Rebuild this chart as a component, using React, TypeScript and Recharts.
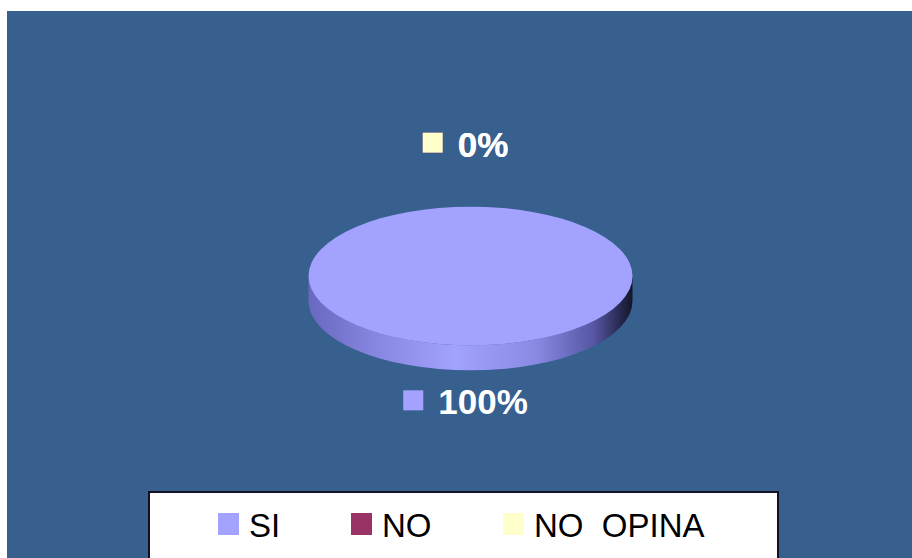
import React from "react";
import { PieChart, Pie, Cell, Legend } from "recharts";

const CATEGORIES = ["SI", "NO", "NO  OPINA"];
const VALUES = [100, 0, 0];
const COLORS = ["#A3A3FF", "#993366", "#FFFFCC"];

const data = CATEGORIES.map((name, i) => ({ name, value: VALUES[i] }));

const RADIAN = Math.PI / 180;
const TILT = 0.428;
const DEPTH = 25;
const LEGEND_X = [70, 203, 355];

const textWidth = (s: string) =>
  s.split("").reduce((w, c) => w + (c === "%" ? 0.889 : 0.556), 0) * 35;

const renderLabel = (props: any) => {
  const { cx, cy, midAngle, outerRadius, startAngle, endAngle, percent, index } = props;
  const rx = outerRadius;
  const ry = outerRadius * TILT;
  const sweep = Math.abs(endAngle - startAngle);
  let disk: React.ReactNode = null;

  if (sweep >= 359.9) {
    disk = (
      <g>
        <path
          d={`M${cx - rx},${cy} A${rx},${ry} 0 0 0 ${cx + rx},${cy} L${cx + rx},${cy + DEPTH} A${rx},${ry} 0 0 1 ${cx - rx},${cy + DEPTH} Z`}
          fill="url(#sideGrad)"
        />
        <ellipse cx={cx} cy={cy} rx={rx} ry={ry} fill={COLORS[index]} />
      </g>
    );
  } else if (sweep > 0.01) {
    const p = (a: number) => [cx + rx * Math.cos(a * RADIAN), cy - ry * Math.sin(a * RADIAN)];
    const [x1, y1] = p(startAngle);
    const [x2, y2] = p(endAngle);
    disk = (
      <path
        d={`M${cx},${cy} L${x1},${y1} A${rx},${ry} 0 ${sweep > 180 ? 1 : 0} 0 ${x2},${y2} Z`}
        fill={COLORS[index]}
      />
    );
  }

  const below = Math.sin(-midAngle * RADIAN) > 0;
  const baseline = below ? cy + ry + DEPTH + 44 : cy - ry - 50;
  const text = `${Math.round((percent || 0) * 100)}%`;
  const groupW = 35 + textWidth(text);
  const left = cx - 5 - groupW / 2;

  return (
    <g key={`lbl-${index}`}>
      {disk}
      <rect x={left} y={baseline - 24} width={20} height={20} fill={COLORS[index]} />
      <text
        x={left + 35}
        y={baseline}
        fill="#ffffff"
        fontSize={35}
        fontWeight={700}
        fontFamily="'Liberation Sans', Arial, sans-serif"
      >
        {text}
      </text>
    </g>
  );
};

const renderLegend = (props: any) => {
  const payload: any[] = props.payload && props.payload.length ? props.payload : data.map((d) => ({ value: d.name }));
  const items = CATEGORIES.map((name) => payload.find((p) => p.value === name) || { value: name });
  return (
    <div
      style={{
        width: 631,
        height: 72,
        background: "#ffffff",
        border: "2px solid #111122",
        boxSizing: "border-box",
        position: "relative",
      }}
    >
      <svg width={631} height={72} style={{ position: "absolute", left: -2, top: -2 }}>
        {items.map((entry: any, i: number) => (
          <g key={`leg-${i}`}>
            <rect x={LEGEND_X[i]} y={22} width={21} height={22} fill={COLORS[i]} />
            <text
              x={LEGEND_X[i] + 31}
              y={46}
              fontSize={33}
              fill="#000000"
              fontFamily="'Liberation Sans', Arial, sans-serif"
              style={{ whiteSpace: "pre" }}
            >
              {entry.value}
            </text>
          </g>
        ))}
      </svg>
    </div>
  );
};

export default function App() {
  return (
    <div
      style={{
        position: "absolute",
        left: 0,
        top: 0,
        width: 912,
        height: 558,
        background: "#ffffff",
        overflow: "hidden",
      }}
    >
      <div style={{ position: "absolute", left: 7, top: 11, width: 905, height: 547, background: "#37608F" }}>
        <svg width={0} height={0} style={{ position: "absolute" }}>
          <defs>
            <linearGradient id="sideGrad" x1="0" y1="0" x2="1" y2="0">
              <stop offset="0%" stopColor="#6868c0" />
              <stop offset="20%" stopColor="#8686e0" />
              <stop offset="45%" stopColor="#a2a2ff" />
              <stop offset="70%" stopColor="#8a8ae4" />
              <stop offset="88%" stopColor="#5656a4" />
              <stop offset="97%" stopColor="#242448" />
              <stop offset="100%" stopColor="#15152a" />
            </linearGradient>
          </defs>
        </svg>
        <PieChart width={905} height={547} margin={{ top: 0, right: 0, bottom: 0, left: 0 }}>
          <Pie
            data={data}
            dataKey="value"
            nameKey="name"
            cx={463.5}
            cy={265}
            outerRadius={162}
            startAngle={90}
            endAngle={450}
            stroke="none"
            label={renderLabel}
            labelLine={false}
            isAnimationActive={false}
          >
            {data.map((entry, index) => (
              <Cell key={`cell-${index}`} fill={COLORS[index]} fillOpacity={0} stroke="none" />
            ))}
          </Pie>
          <Legend
            content={renderLegend}
            wrapperStyle={{ left: 141, top: 480, width: 631, height: 72, bottom: "auto" }}
          />
        </PieChart>
      </div>
    </div>
  );
}
